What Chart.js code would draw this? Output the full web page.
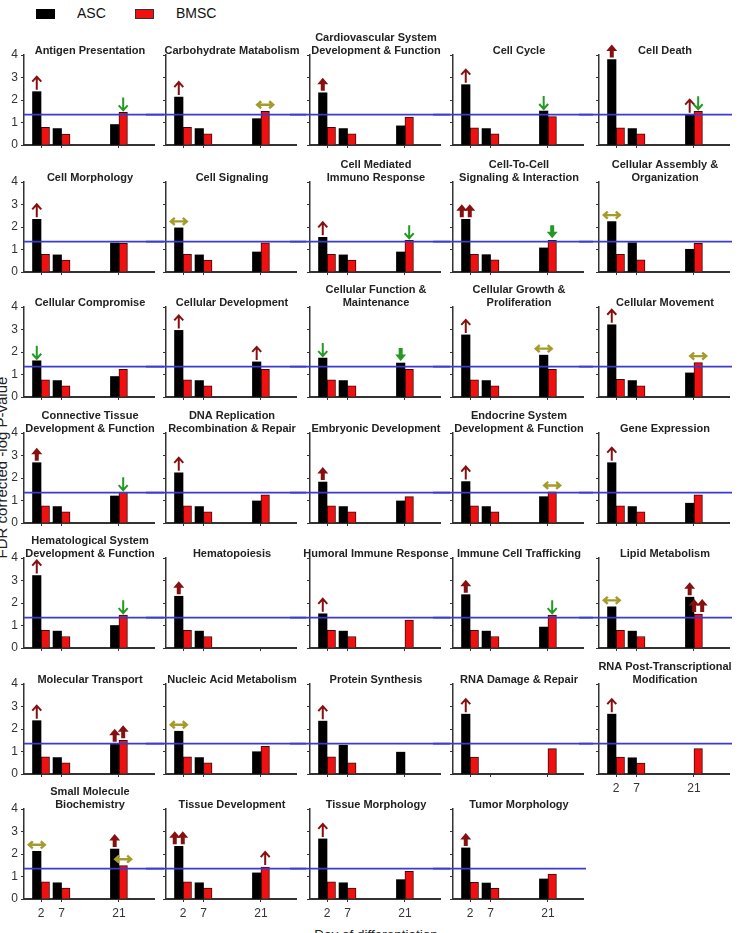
<!DOCTYPE html>
<html>
<head>
<meta charset="utf-8">
<script src="https://cdn.jsdelivr.net/npm/chart.js@4.4.1/dist/chart.umd.min.js"></script>
<style>
  body { margin: 0; background: #fff; }
  #wrap { position: relative; width: 741px; height: 933px; overflow: hidden; background: #fff;
          font-family: "Liberation Sans", Arial, sans-serif; color: #111; }
  #wrap canvas { position: absolute; }
  .box { position: absolute; top: 9px; width: 19px; height: 10px; }
  .lab { position: absolute; top: 5px; font-size: 14px; line-height: 17px; }
</style>
</head>
<body>
<div id="wrap">
  <div class="box" style="left:36px;background:#000"></div>
  <div class="lab" style="left:77px">ASC</div>
  <div class="box" style="left:135px;width:17px;height:8px;background:#f01010;border:1px solid #333"></div>
  <div class="lab" style="left:176px">BMSC</div>
  <div style="position:absolute;left:-149px;top:459px;width:300px;height:17px;line-height:17px;font-size:15px;text-align:center;color:#222;transform:rotate(-90deg)">FDR corrected -log P-value</div>
  <div style="position:absolute;left:226px;top:927px;width:300px;line-height:16px;font-size:13.5px;text-align:center;color:#222">Day of differentiation</div>
</div>
<script>
// days of differentiation (x positions)
var days = [2, 7, 21];
var cutoff = 1.35;

var titles = [
  ['Antigen Presentation'], ['Carbohydrate Matabolism'], ['Cardiovascular System', 'Development & Function'], ['Cell Cycle'], ['Cell Death'],
  ['Cell Morphology'], ['Cell Signaling'], ['Cell Mediated', 'Immuno Response'], ['Cell-To-Cell', 'Signaling & Interaction'], ['Cellular Assembly &', 'Organization'],
  ['Cellular Compromise'], ['Cellular Development'], ['Cellular Function &', 'Maintenance'], ['Cellular Growth &', 'Proliferation'], ['Cellular Movement'],
  ['Connective Tissue', 'Development & Function'], ['DNA Replication', 'Recombination & Repair'], ['Embryonic Development'], ['Endocrine System', 'Development & Function'], ['Gene Expression'],
  ['Hematological System', 'Development & Function'], ['Hematopoiesis'], ['Humoral Immune Response'], ['Immune Cell Trafficking'], ['Lipid Metabolism'],
  ['Molecular Transport'], ['Nucleic Acid Metabolism'], ['Protein Synthesis'], ['RNA Damage & Repair'], ['RNA Post-Transcriptional', 'Modification'],
  ['Small Molecule', 'Biochemistry'], ['Tissue Development'], ['Tissue Morphology'], ['Tumor Morphology']
];

// ASC values at day 2, 7, 21
var asc = [
  [2.37, 0.73, 0.91], [2.13, 0.73, 1.17], [2.32, 0.73, 0.85], [2.68, 0.73, 1.51], [3.8, 0.73, 1.35],
  [2.34, 0.76, 1.29], [1.96, 0.76, 0.89], [1.54, 0.76, 0.89], [2.34, 0.77, 1.07], [2.24, 1.3, 1.01],
  [1.61, 0.73, 0.91], [2.96, 0.73, 1.56], [1.73, 0.73, 1.51], [2.76, 0.73, 1.86], [3.21, 0.73, 1.07],
  [2.68, 0.73, 1.2], [2.23, 0.73, 0.98], [1.82, 0.73, 0.98], [1.84, 0.73, 1.17], [2.68, 0.73, 0.88],
  [3.22, 0.75, 1.0], [2.3, 0.75, null], [1.52, 0.75, null], [2.37, 0.75, 0.93], [1.83, 0.75, 2.26],
  [2.37, 0.73, 1.35], [1.9, 0.73, 0.99], [2.35, 1.28, 0.97], [2.66, null, null], [2.66, 0.72, null],
  [2.12, 0.72, 2.22], [2.34, 0.72, 1.16], [2.67, 0.72, 0.86], [2.27, 0.71, 0.89]
];

// BMSC values at day 2, 7, 21
var bmsc = [
  [0.78, 0.49, 1.45], [0.78, 0.5, 1.5], [0.78, 0.5, 1.24], [0.76, 0.5, 1.26], [0.76, 0.5, 1.5],
  [0.79, 0.53, 1.27], [0.79, 0.53, 1.3], [0.79, 0.53, 1.41], [0.79, 0.54, 1.41], [0.79, 0.54, 1.27],
  [0.76, 0.5, 1.23], [0.76, 0.5, 1.23], [0.76, 0.5, 1.23], [0.76, 0.5, 1.23], [0.78, 0.5, 1.53],
  [0.76, 0.5, 1.37], [0.76, 0.5, 1.25], [0.76, 0.5, 1.17], [0.76, 0.5, 1.38], [0.76, 0.5, 1.25],
  [0.79, 0.51, 1.46], [0.79, 0.51, null], [0.79, 0.51, 1.24], [0.79, 0.51, 1.46], [0.79, 0.51, 1.51],
  [0.76, 0.5, 1.5], [0.76, 0.5, 1.23], [0.76, 0.5, null], [0.75, null, 1.13], [0.75, 0.48, 1.13],
  [0.76, 0.49, 1.48], [0.76, 0.49, 1.42], [0.76, 0.49, 1.23], [0.74, 0.47, 1.11]
];

// trend markers: [series (0 ASC, 1 BMSC), day index, kind]
var marks = [
  [[0,0,'up'],[1,2,'down']], [[0,0,'up'],[1,2,'lr']], [[0,0,'UP']], [[0,0,'up'],[0,2,'down']], [[0,0,'UP'],[0,2,'up'],[1,2,'down']],
  [[0,0,'up']], [[0,0,'lr']], [[0,0,'up'],[1,2,'down']], [[0,0,'UP2'],[1,2,'DOWN']], [[0,0,'lr']],
  [[0,0,'down']], [[0,0,'up'],[0,2,'up']], [[0,0,'down'],[0,2,'DOWN']], [[0,0,'up'],[0,2,'lr']], [[0,0,'up'],[1,2,'lr']],
  [[0,0,'UP'],[1,2,'down']], [[0,0,'up']], [[0,0,'UP']], [[0,0,'up'],[1,2,'lr']], [[0,0,'up']],
  [[0,0,'up'],[1,2,'down']], [[0,0,'UP']], [[0,0,'up']], [[0,0,'UP'],[1,2,'down']], [[0,0,'lr'],[0,2,'UP'],[1,2,'UP2']],
  [[0,0,'up'],[0,2,'UP'],[1,2,'UP']], [[0,0,'lr']], [[0,0,'up']], [[0,0,'up']], [[0,0,'up']],
  [[0,0,'lr'],[0,2,'UP'],[1,2,'lr']], [[0,0,'UP2'],[1,2,'up']], [[0,0,'up']], [[0,0,'UP']]
];

var colX = [24, 166, 310, 453, 599];
var rowZero = [145, 271.5, 397, 522.5, 648, 773.5, 899.3];
var RED = '#861010', GREEN = '#249a24', OLIVE = '#a39c2a';

Chart.defaults.font.family = '"Liberation Sans", Arial, sans-serif';
Chart.defaults.color = '#333';

function thinArrow(ctx, x, top, down, col) {
  var b = top - 2, t = top - 15;
  ctx.strokeStyle = col; ctx.lineWidth = 2;
  ctx.beginPath();
  if (!down) {
    ctx.moveTo(x, b); ctx.lineTo(x, t + 1);
    ctx.moveTo(x - 4.5, t + 5); ctx.lineTo(x, t); ctx.lineTo(x + 4.5, t + 5);
  } else {
    ctx.moveTo(x, t); ctx.lineTo(x, b - 1);
    ctx.moveTo(x - 4.5, b - 5); ctx.lineTo(x, b); ctx.lineTo(x + 4.5, b - 5);
  }
  ctx.stroke();
}

function boldArrow(ctx, x, top, down, col) {
  var b = top - 2, t = top - 15;
  ctx.fillStyle = col;
  ctx.beginPath();
  if (!down) {
    ctx.moveTo(x, t); ctx.lineTo(x + 5.5, t + 6.5); ctx.lineTo(x + 2, t + 6.5); ctx.lineTo(x + 2, b);
    ctx.lineTo(x - 2, b); ctx.lineTo(x - 2, t + 6.5); ctx.lineTo(x - 5.5, t + 6.5);
  } else {
    ctx.moveTo(x, b); ctx.lineTo(x + 5.5, b - 6.5); ctx.lineTo(x + 2, b - 6.5); ctx.lineTo(x + 2, t);
    ctx.lineTo(x - 2, t); ctx.lineTo(x - 2, b - 6.5); ctx.lineTo(x - 5.5, b - 6.5);
  }
  ctx.closePath();
  ctx.fill();
}

function sideArrow(ctx, x, top) {
  var y = top - 6.5;
  ctx.strokeStyle = OLIVE; ctx.lineWidth = 2.4;
  ctx.beginPath();
  ctx.moveTo(x - 7.5, y); ctx.lineTo(x + 7.5, y);
  ctx.moveTo(x - 4, y - 3.5); ctx.lineTo(x - 8, y); ctx.lineTo(x - 4, y + 3.5);
  ctx.moveTo(x + 4, y - 3.5); ctx.lineTo(x + 8, y); ctx.lineTo(x + 4, y + 3.5);
  ctx.stroke();
}

var panelPlugin = {
  id: 'panel',
  afterDatasetsDraw: function (chart) {
    var p = chart.options.plugins.panel;
    var ctx = chart.ctx, area = chart.chartArea;
    var y = chart.scales.y.getPixelForValue(cutoff);
    ctx.save();
    // significance line, runs across the row
    ctx.strokeStyle = '#3b3bd0'; ctx.lineWidth = 1.6;
    ctx.beginPath();
    ctx.moveTo(p.first ? area.left : 0, y);
    ctx.lineTo(p.last ? area.right + 3 : chart.width, y);
    ctx.stroke();
    p.marks.forEach(function (m) {
      var el = chart.getDatasetMeta(m[0]).data[m[1]];
      var x = el.x, top = el.y;
      if (m[2] === 'up') thinArrow(ctx, x, top, false, RED);
      else if (m[2] === 'down') thinArrow(ctx, x, top, true, GREEN);
      else if (m[2] === 'UP') boldArrow(ctx, x, top, false, RED);
      else if (m[2] === 'DOWN') boldArrow(ctx, x, top, true, GREEN);
      else if (m[2] === 'UP2') { boldArrow(ctx, x - 4, top, false, RED); boldArrow(ctx, x + 4, top, false, RED); }
      else if (m[2] === 'lr') sideArrow(ctx, x, top);
    });
    ctx.restore();
  },
  afterDraw: function (chart) {
    var p = chart.options.plugins.panel;
    var ctx = chart.ctx, area = chart.chartArea;
    ctx.save();
    ctx.font = 'bold 11px "Liberation Sans", Arial, sans-serif';
    ctx.fillStyle = '#222';
    ctx.textAlign = 'center';
    ctx.textBaseline = 'middle';
    var n = p.title.length;
    p.title.forEach(function (line, k) {
      ctx.fillText(line, (area.left + area.right) / 2 + 1, area.top - 4 - (n - 1 - k) * 12.7);
    });
    ctx.restore();
  }
};

var wrap = document.getElementById('wrap');

titles.forEach(function (title, i) {
  var r = Math.floor(i / 5), c = i % 5;
  var isLast = (c === 4) || (i === titles.length - 1);
  var showX = (r === 6) || (r === 5 && c === 4);
  var cv = document.createElement('canvas');
  cv.width = 160; cv.height = 140;
  cv.style.left = (colX[c] - 20) + 'px';
  cv.style.top = Math.round(rowZero[r] - 118) + 'px';
  wrap.appendChild(cv);

  new Chart(cv, {
    type: 'bar',
    data: {
      datasets: [{
        label: 'ASC',
        data: days.map(function (d, k) { return {x: d, y: asc[i][k]}; }),
        backgroundColor: '#000',
        borderWidth: 0
      }, {
        label: 'BMSC',
        data: days.map(function (d, k) { return {x: d, y: bmsc[i][k]}; }),
        backgroundColor: '#f01010',
        borderColor: '#3a0a0a',
        borderWidth: 1
      }]
    },
    options: {
      responsive: false,
      animation: false,
      events: [],
      barThickness: 8.5,
      layout: {padding: {top: 28, right: 10, left: 0, bottom: 0}},
      plugins: {
        legend: {display: false},
        tooltip: {enabled: false},
        panel: {title: title, marks: marks[i], first: c === 0, last: isLast}
      },
      scales: {
        x: {
          type: 'linear', min: -2.15, max: 29.55, offset: false,
          afterBuildTicks: function (s) { s.ticks = days.map(function (v) { return {value: v}; }); },
          afterFit: function (s) { s.height = 22; s.paddingLeft = 0; s.paddingRight = 0; },
          grid: {drawOnChartArea: false, offset: false, tickLength: 3, color: '#333'},
          border: {color: '#333', width: 2},
          ticks: {autoSkip: false, maxRotation: 0, padding: 4, color: '#333', font: {size: 12},
                  callback: function (v) { return showX ? String(v) : ''; }}
        },
        y: {
          min: 0, max: 4,
          afterFit: function (s) { s.width = 20; s.paddingTop = 0; s.paddingBottom = 0; },
          grid: {drawOnChartArea: false, tickLength: 3, color: '#333'},
          border: {color: '#333', width: 1.5},
          ticks: {stepSize: 1, padding: 3, color: '#333', font: {size: 12},
                  callback: function (v) { return c === 0 ? String(v) : ''; }}
        }
      }
    },
    plugins: [panelPlugin]
  });
});
</script>
</body>
</html>
